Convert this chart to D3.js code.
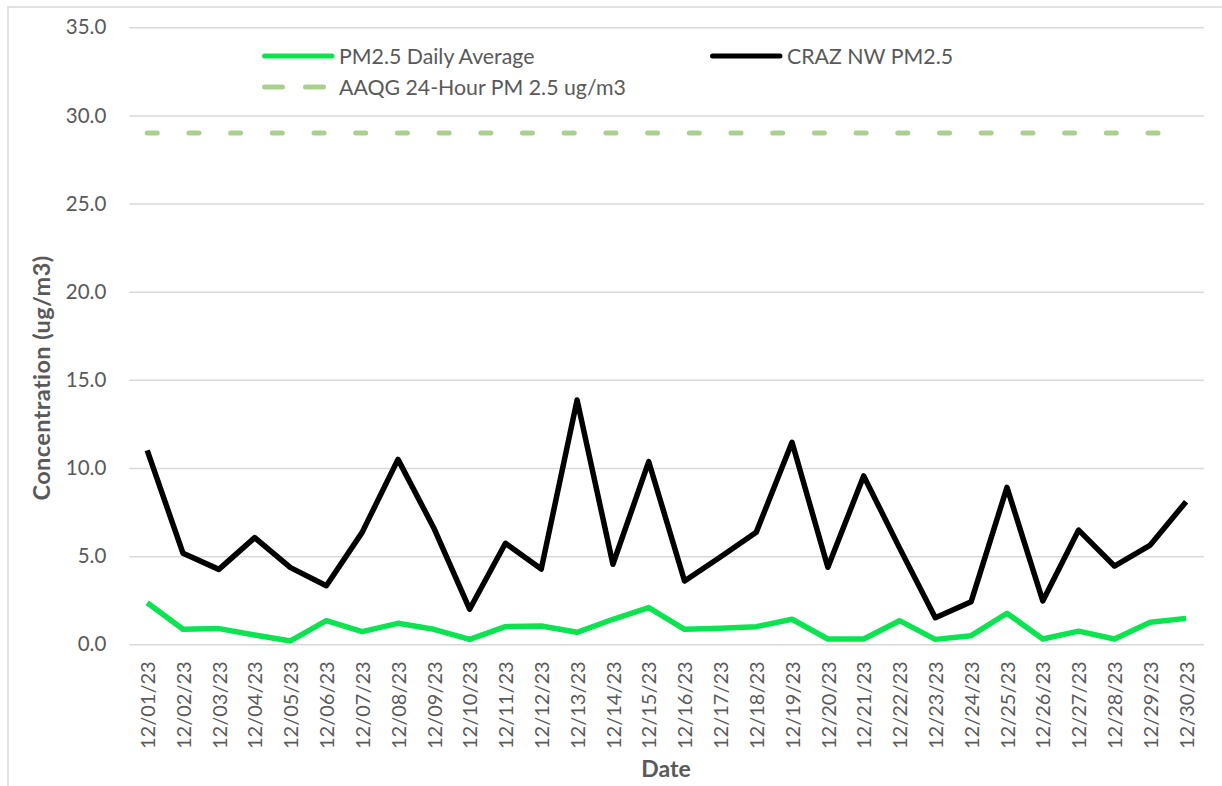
<!doctype html>
<html>
<head>
    <meta charset="UTF-8">
    <title>PM2.5 December 2023</title>
    <script src="https://d3js.org/d3.v7.min.js"></script>
    <style>
        body { margin: 0; background: #fff; }
        text { font-family: Lato, "Open Sans", sans-serif; fill: #595959; }
    </style>
</head>
<body>
    <script>
        // data
        var dates = ["12/01/23","12/02/23","12/03/23","12/04/23","12/05/23","12/06/23","12/07/23","12/08/23","12/09/23","12/10/23",
                     "12/11/23","12/12/23","12/13/23","12/14/23","12/15/23","12/16/23","12/17/23","12/18/23","12/19/23","12/20/23",
                     "12/21/23","12/22/23","12/23/23","12/24/23","12/25/23","12/26/23","12/27/23","12/28/23","12/29/23","12/30/23"];
        var pmDaily = [2.36, 0.85, 0.89, 0.53, 0.19, 1.34, 0.72, 1.19, 0.85, 0.28,
                       1.00, 1.04, 0.68, 1.42, 2.08, 0.85, 0.91, 1.00, 1.42, 0.30,
                       0.30, 1.34, 0.28, 0.49, 1.76, 0.30, 0.75, 0.30, 1.25, 1.47];
        var crazNw = [11.0, 5.16, 4.25, 6.05, 4.35, 3.32, 6.35, 10.49, 6.6, 1.99,
                      5.73, 4.27, 13.86, 4.54, 10.36, 3.59, 4.95, 6.35, 11.46, 4.37,
                      9.55, 5.47, 1.51, 2.42, 8.9, 2.46, 6.48, 4.44, 5.63, 8.09];
        var aaqg = 29.0;
        var yTicks = [0, 5, 10, 15, 20, 25, 30, 35];
        var seriesNames = ["PM2.5 Daily Average", "CRAZ NW PM2.5", "AAQG 24-Hour PM 2.5 ug/m3"];

        var w = 1222;
        var h = 786;
        // plot area (note: "top" is reserved on window, so use plotTop)
        var plotLeft = 129.3, plotRight = 1204, plotTop = 27.3, plotBottom = 644.3;
        var green = "#0CE350", black = "#000000", lightGreen = "#A9D18E";

        var svg = d3.select("body").append("svg")
            .attr("width", w)
            .attr("height", h);

        // chart border
        svg.append("rect")
            .attr("x", 8).attr("y", 7)
            .attr("width", 1230).attr("height", 800)
            .attr("fill", "none")
            .attr("stroke", "#D9D9D9")
            .attr("stroke-width", 1.5);

        var x = d3.scalePoint().domain(dates).range([plotLeft, plotRight]).padding(0.5);
        var y = d3.scaleLinear().domain([0, 35]).range([plotBottom, plotTop]);

        // y axis + gridlines
        var yAxis = svg.append("g")
            .attr("transform", "translate(" + plotLeft + ",0)")
            .call(d3.axisLeft(y).tickValues(yTicks).tickFormat(d3.format(".1f"))
                .tickSize(-(plotRight - plotLeft)).tickPadding(23));
        yAxis.select(".domain").remove();
        yAxis.selectAll("line").attr("stroke", "#D9D9D9").attr("stroke-width", 1.5);
        yAxis.selectAll("text").style("font-size", "20.5px").attr("fill", "#595959");

        // x axis
        var xAxis = svg.append("g")
            .attr("transform", "translate(0," + plotBottom + ")")
            .call(d3.axisBottom(x).tickSize(0));
        xAxis.select(".domain").remove();
        xAxis.selectAll("text")
            .style("font-size", "20px")
            .attr("fill", "#595959")
            .attr("text-anchor", "end")
            .attr("transform", "rotate(-90)")
            .attr("x", -17)
            .attr("y", 0)
            .attr("dy", "0.36em");

        // AAQG limit line
        svg.append("line")
            .attr("x1", x(dates[0])).attr("x2", x(dates[dates.length - 1]))
            .attr("y1", y(aaqg)).attr("y2", y(aaqg))
            .attr("stroke", lightGreen)
            .attr("stroke-width", 5)
            .attr("stroke-linecap", "round")
            .attr("stroke-dasharray", "10,31.7");

        var line = d3.line()
            .x(function(d, i) { return x(dates[i]); })
            .y(function(d) { return y(d); });

        svg.append("path")
            .attr("d", line(crazNw))
            .attr("fill", "none")
            .attr("stroke", black)
            .attr("stroke-width", 5.5)
            .attr("stroke-linejoin", "round");

        svg.append("path")
            .attr("d", line(pmDaily))
            .attr("fill", "none")
            .attr("stroke", green)
            .attr("stroke-width", 5.5)
            .attr("stroke-linejoin", "round");

        // legend
        var legend = [
            {name: seriesNames[0], color: green, dash: null, x: 262, y: 56},
            {name: seriesNames[1], color: black, dash: null, x: 710, y: 56},
            {name: seriesNames[2], color: lightGreen, dash: "14,28", x: 262, y: 87}
        ];
        var lg = svg.selectAll(".legend").data(legend).enter().append("g").attr("class", "legend");
        lg.append("line")
            .attr("x1", function(d) { return d.x + 2.5; })
            .attr("x2", function(d) { return d.x + 70; })
            .attr("y1", function(d) { return d.y; })
            .attr("y2", function(d) { return d.y; })
            .attr("stroke", function(d) { return d.color; })
            .attr("stroke-width", 5)
            .attr("stroke-linecap", "round")
            .attr("stroke-dasharray", function(d) { return d.dash ? "18,23" : null; });
        lg.append("text")
            .attr("x", function(d) { return d.x + 77; })
            .attr("y", function(d) { return d.y; })
            .attr("dy", "0.36em")
            .style("font-size", "21.3px")
            .text(function(d) { return d.name; });

        // axis titles
        svg.append("text")
            .attr("x", 666).attr("y", 777)
            .attr("text-anchor", "middle")
            .style("font-size", "23px").style("font-weight", "bold")
            .text("Date");
        svg.append("text")
            .attr("transform", "translate(50,378) rotate(-90)")
            .attr("text-anchor", "middle")
            .style("font-size", "23.5px").style("font-weight", "bold")
            .style("letter-spacing", "0.4px")
            .text("Concentration (ug/m3)");
    </script>
</body>
</html>
